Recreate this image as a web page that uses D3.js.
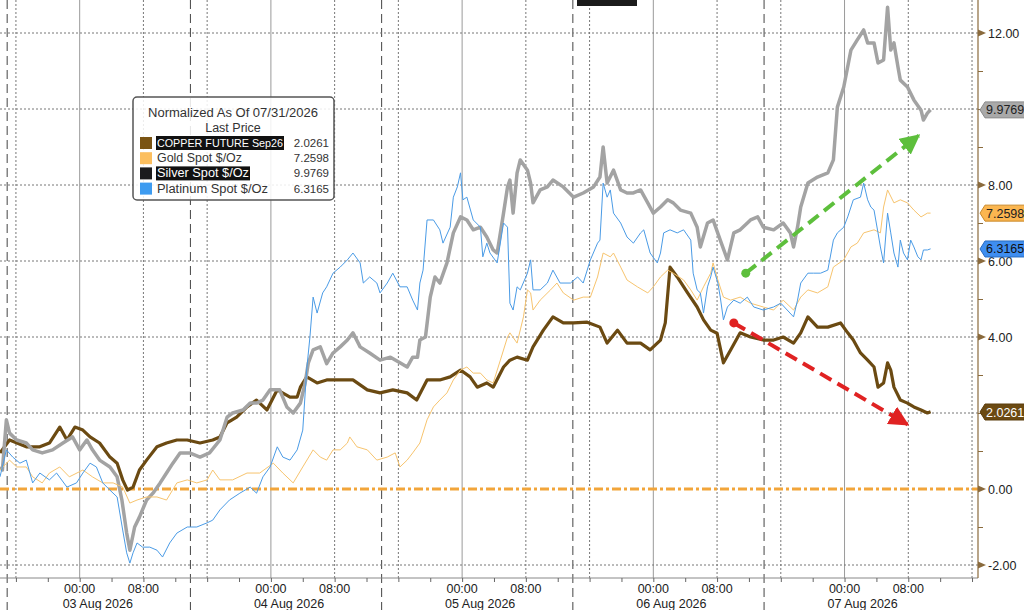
<!DOCTYPE html>
<html>
<head>
<meta charset="utf-8">
<script src="https://cdn.jsdelivr.net/npm/d3@7"></script>
<style>
  body { margin: 0; background: #fff; }
  svg { display: block; font-family: "Liberation Sans", Arial, sans-serif; }
</style>
</head>
<body>
<svg width="1024" height="610"></svg>
<script>
// hours since 03 Aug 2026 00:00, normalized value
const copper = [[-10.0,0.95],[-8.8,1.29],[-6.7,1.11],[-5.0,1.11],[-3.8,1.21],[-2.5,1.63],[-1.6,1.29],[-0.6,1.63],[0.4,1.55],[1.3,1.37],[2.5,1.21],[3.8,0.84],[4.7,0.68],[5.4,0.24],[6.0,-0.03],[6.7,0.05],[7.5,0.50],[8.4,0.76],[9.7,1.11],[10.9,1.21],[12.2,1.29],[13.5,1.29],[15.1,1.21],[16.7,1.29],[17.6,1.37],[18.5,1.74],[19.7,1.89],[21.0,2.16],[22.2,2.34],[23.5,2.08],[24.8,2.61],[26.4,2.42],[27.3,2.42],[27.7,2.68],[28.5,2.95],[29.8,2.79],[31.0,2.87],[32.7,2.87],[34.3,2.87],[36.1,2.61],[37.7,2.53],[39.3,2.61],[41.1,2.53],[42.3,2.34],[43.6,2.87],[45.2,2.87],[46.5,2.95],[47.8,3.13],[49.0,2.95],[49.9,2.68],[51.1,2.79],[51.9,2.68],[53.2,3.21],[54.0,3.39],[54.9,3.47],[56.2,3.39],[56.9,3.74],[58.2,4.18],[59.4,4.53],[60.7,4.37],[62.0,4.37],[63.7,4.39],[65.3,4.26],[66.2,3.84],[67.5,4.18],[68.7,3.84],[70.4,3.84],[71.6,3.66],[72.9,3.92],[73.5,4.37],[74.1,5.84],[75.0,5.58],[76.3,5.16],[77.5,4.79],[78.3,4.45],[79.2,4.18],[80.0,4.10],[80.8,3.32],[81.7,3.66],[82.9,4.11],[84.2,4.00],[85.8,3.92],[87.1,3.92],[88.3,4.00],[89.6,3.84],[90.5,4.11],[91.4,4.53],[92.6,4.26],[93.9,4.26],[95.5,4.37],[96.4,4.11],[97.1,3.92],[98.0,3.58],[98.9,3.39],[99.7,3.21],[100.2,2.68],[100.9,2.79],[101.4,3.32],[101.8,3.13],[102.2,2.68],[103.0,2.34],[103.9,2.26],[104.7,2.16],[105.6,2.08],[106.4,2.00],[106.8,2.03]];

const gold = [[-10.0,0.50],[-8.8,0.76],[-7.9,0.58],[-6.7,0.58],[-5.9,0.32],[-4.7,0.16],[-3.8,0.42],[-2.5,0.58],[-1.3,0.32],[0.4,0.50],[1.6,0.32],[2.9,0.16],[4.2,0.16],[5.4,0.05],[6.3,-0.37],[7.2,-0.29],[8.4,-0.21],[9.7,-0.21],[10.9,-0.29],[12.2,0.16],[13.5,0.24],[14.7,0.16],[16.0,0.24],[16.7,0.50],[17.6,0.24],[19.2,0.24],[21.0,0.42],[22.6,0.42],[24.3,0.68],[25.5,0.42],[26.8,0.16],[28.0,0.58],[29.3,1.03],[30.2,0.84],[31.0,0.76],[31.8,1.03],[32.7,1.03],[33.6,1.21],[33.9,1.37],[34.8,1.11],[36.1,1.03],[37.3,0.76],[38.6,0.84],[39.6,0.95],[40.2,0.58],[41.1,0.76],[41.8,0.95],[42.7,1.21],[43.6,1.82],[44.4,2.16],[45.2,2.34],[46.1,2.53],[46.9,2.87],[47.8,3.13],[48.6,3.21],[49.4,3.05],[50.3,3.05],[51.1,2.87],[51.9,2.79],[52.8,3.39],[53.7,4.00],[54.0,4.11],[54.9,3.84],[55.7,4.53],[56.2,5.24],[56.6,5.16],[56.9,4.71],[57.8,4.97],[59.1,5.24],[59.9,5.42],[60.7,5.16],[62.0,4.97],[63.2,5.05],[64.1,5.05],[65.0,5.58],[65.7,6.21],[66.6,6.11],[67.0,6.21],[67.9,5.84],[68.7,5.50],[70.0,5.32],[71.3,5.16],[72.0,5.32],[72.9,5.58],[73.8,5.76],[74.5,5.68],[75.8,5.50],[76.7,5.24],[77.5,4.97],[78.3,5.32],[79.2,5.68],[79.5,5.95],[80.1,5.50],[80.8,5.05],[81.7,4.97],[82.9,5.05],[84.2,4.89],[85.8,4.79],[87.1,4.71],[88.3,4.97],[89.6,4.71],[90.5,5.05],[91.4,5.24],[92.6,5.16],[93.9,5.32],[94.6,5.84],[95.9,6.03],[96.8,6.37],[97.6,6.47],[98.4,6.74],[99.7,6.82],[100.5,6.74],[100.9,7.42],[101.4,7.87],[102.2,7.53],[103.0,7.61],[103.9,7.53],[104.7,7.34],[105.6,7.16],[106.4,7.26],[106.8,7.26]];

const silver = [[-10.0,0.58],[-9.7,0.50],[-9.2,1.82],[-8.8,1.47],[-7.9,1.29],[-6.7,1.21],[-5.9,1.03],[-4.7,0.95],[-3.4,1.03],[-2.1,1.21],[-0.9,1.37],[0.0,1.03],[0.9,1.29],[1.6,1.03],[2.5,0.76],[3.8,0.58],[4.7,0.32],[5.3,-0.29],[5.9,-1.16],[6.3,-1.61],[6.9,-1.00],[7.5,-0.74],[8.4,-0.29],[9.2,-0.11],[10.1,0.16],[10.9,0.42],[11.7,0.68],[12.6,0.95],[13.8,0.95],[15.1,0.84],[16.3,0.95],[17.6,1.29],[18.5,1.89],[19.2,2.00],[20.5,2.08],[21.4,2.26],[22.2,2.26],[23.0,2.34],[23.9,2.61],[25.1,2.61],[26.0,2.16],[26.8,2.00],[27.7,2.26],[28.3,2.79],[28.7,3.32],[29.3,3.66],[30.2,3.74],[31.0,3.30],[31.8,3.58],[32.7,3.74],[33.6,3.92],[34.3,4.11],[35.2,3.74],[36.4,3.58],[37.7,3.39],[39.0,3.47],[40.2,3.32],[41.1,3.21],[41.8,3.47],[42.4,3.47],[42.7,3.92],[43.4,4.00],[44.0,5.05],[44.6,5.58],[45.2,5.42],[46.1,5.95],[46.9,6.74],[47.8,7.16],[48.6,7.08],[49.4,6.82],[50.3,6.89],[51.1,6.63],[51.9,6.29],[52.4,6.21],[53.2,7.26],[53.7,7.95],[54.0,8.13],[54.4,7.26],[54.9,8.32],[55.3,8.66],[56.2,8.39],[56.6,8.05],[56.9,7.53],[57.8,7.87],[58.7,7.95],[59.4,8.13],[60.7,7.95],[62.0,7.68],[63.2,7.79],[64.5,7.95],[65.3,8.21],[65.7,9.00],[66.2,8.05],[67.0,8.39],[67.9,7.87],[68.7,7.79],[69.5,7.79],[70.4,7.87],[71.3,7.53],[72.0,7.26],[72.9,7.42],[73.8,7.61],[74.5,7.53],[75.4,7.34],[76.7,7.26],[77.5,6.89],[77.9,6.37],[78.8,7.00],[79.5,7.08],[80.4,6.55],[81.3,6.03],[82.1,6.74],[82.9,6.82],[84.2,7.08],[85.1,7.16],[85.8,6.89],[87.1,6.82],[88.3,7.00],[89.2,6.74],[89.6,6.37],[90.1,6.89],[90.5,7.42],[91.4,8.05],[92.6,8.21],[93.9,8.32],[94.6,8.66],[95.1,10.05],[95.9,10.58],[96.8,11.55],[97.6,11.82],[98.4,12.08],[98.9,11.74],[99.7,11.74],[100.2,11.21],[100.9,11.29],[101.4,12.68],[101.8,11.55],[102.2,11.74],[102.7,11.11],[103.0,10.76],[103.9,10.58],[104.7,10.24],[105.6,9.97],[105.9,9.71],[106.4,9.89],[106.8,9.98]];

const platinum = [[-10.0,0.32],[-9.2,1.03],[-8.4,0.84],[-7.5,0.68],[-6.7,0.76],[-5.9,0.16],[-5.0,0.42],[-3.8,0.24],[-2.9,0.42],[-1.6,0.05],[-0.4,0.16],[0.4,0.42],[1.3,0.68],[2.1,0.58],[2.9,0.16],[3.8,-0.03],[4.7,-0.21],[5.4,-1.08],[5.9,-1.68],[6.3,-1.95],[6.7,-1.68],[7.2,-1.42],[7.9,-1.53],[8.8,-1.53],[9.7,-1.61],[10.4,-1.79],[11.3,-1.42],[12.2,-1.16],[13.5,-1.00],[14.7,-1.00],[16.0,-0.89],[16.7,-0.82],[17.6,-0.55],[18.8,-0.29],[20.1,-0.11],[21.4,0.05],[22.2,-0.11],[23.0,0.32],[23.9,0.58],[24.8,1.11],[25.5,0.84],[26.4,0.76],[27.3,1.03],[28.0,1.55],[28.5,3.16],[28.9,4.00],[29.3,5.05],[29.8,4.63],[30.5,5.16],[31.0,5.32],[31.8,5.68],[32.7,5.84],[33.6,6.03],[34.3,6.21],[35.2,5.95],[35.6,5.42],[36.4,5.58],[37.3,5.42],[37.7,5.16],[38.6,5.42],[39.3,5.68],[40.2,5.32],[41.1,5.32],[41.8,4.97],[42.4,4.71],[42.7,5.42],[43.1,5.76],[43.6,7.08],[44.4,7.08],[45.2,6.82],[45.6,6.47],[46.5,6.89],[46.9,7.68],[47.4,7.95],[47.8,8.32],[48.1,7.61],[48.6,7.68],[49.4,7.08],[50.3,6.89],[50.6,6.11],[51.1,6.47],[51.5,6.21],[52.4,5.95],[53.2,7.00],[53.7,6.89],[54.0,4.89],[54.4,4.71],[54.9,5.32],[55.3,5.24],[56.2,5.68],[56.6,6.03],[56.9,5.24],[57.8,5.24],[58.7,5.42],[59.4,5.76],[60.3,5.42],[61.6,5.42],[62.5,5.58],[63.2,5.42],[64.1,6.03],[65.0,6.47],[65.3,6.55],[65.7,8.05],[66.2,7.68],[66.6,7.87],[67.0,7.26],[67.9,7.00],[68.7,6.63],[69.5,6.47],[70.4,6.74],[70.8,6.82],[71.6,6.21],[72.5,5.95],[72.9,6.21],[73.3,6.74],[74.1,6.82],[75.0,6.74],[75.8,6.82],[76.7,6.55],[77.0,5.68],[77.5,5.24],[77.9,5.16],[78.3,4.63],[78.8,5.32],[79.2,5.58],[79.5,5.84],[80.1,5.42],[80.4,5.05],[80.8,4.45],[81.3,4.79],[82.1,4.97],[82.9,4.89],[83.8,5.05],[84.6,4.79],[85.8,4.71],[87.1,4.79],[88.0,4.89],[88.8,4.71],[89.6,4.53],[90.1,4.97],[90.5,5.42],[91.4,5.68],[92.1,5.68],[93.0,5.68],[93.9,5.76],[94.3,6.21],[94.6,6.55],[95.1,6.74],[95.9,6.89],[96.4,7.16],[97.1,7.61],[98.0,7.68],[98.4,8.05],[98.9,7.61],[99.3,7.42],[99.7,7.34],[100.2,6.74],[100.5,6.37],[100.9,5.95],[101.4,7.26],[101.8,6.74],[102.2,6.21],[102.7,5.84],[103.0,6.55],[103.4,6.21],[103.9,6.03],[104.3,6.55],[104.7,6.37],[105.2,6.11],[105.6,6.03],[105.9,6.29],[106.4,6.29],[106.8,6.32]];

const seriesNames = ["COPPER FUTURE Sep26", "Gold Spot $/Oz", "Silver Spot $/Oz", "Platinum Spot $/Oz"];
const lastPrices = [2.0261, 7.2598, 9.9769, 6.3165];
const yLabelTicks = [12, 8, 6, 4, 0, -2];
const yGridTicks = [-2, 2, 4, 6, 8, 10, 12];
const sessionBreaks = [-9.1, 13.9, 37.9, 61.9, 85.9]; // hours
const days = [0, 24, 48, 72, 96];
// trend arrows [h, v] start -> end
const greenArrow = [[83.6, 5.68], [105.3, 9.30]];
const redArrow = [[82.1, 4.37], [103.9, 1.70]];

const BASE = Date.UTC(2026, 7, 3);
const at = h => new Date(BASE + h * 36e5);

const svg = d3.select("svg");
const W = 978, H = 578;

const x = d3.scaleUtc().domain([at(-10), at(112.75)]).range([0, W]);
const y = d3.scaleLinear().domain([-2, 12]).range([565, 33]);

// vertical grid
const vg = svg.append("g");
const hours = d3.utcHour.every(8).range(at(-10), at(113));
vg.selectAll("line.h").data(hours).join("line")
  .attr("x1", d => x(d)).attr("x2", d => x(d))
  .attr("y1", 0).attr("y2", H)
  .attr("stroke", d => d.getUTCHours() === 0 ? "#9a9a9a" : "#777")
  .attr("stroke-width", 1)
  .attr("stroke-dasharray", d => d.getUTCHours() === 0 ? null : "2,2");
vg.selectAll("line.s").data(sessionBreaks).join("line")
  .attr("x1", d => x(at(d))).attr("x2", d => x(at(d)))
  .attr("y1", 0).attr("y2", 610)
  .attr("stroke", "#444").attr("stroke-width", 1)
  .attr("stroke-dasharray", "9,5");

// horizontal grid
svg.append("g").selectAll("line").data(yGridTicks).join("line")
  .attr("x1", 0).attr("x2", W)
  .attr("y1", d => y(d)).attr("y2", d => y(d))
  .attr("stroke", "#777").attr("stroke-dasharray", "2,2");

// zero line
svg.append("line")
  .attr("x1", 0).attr("x2", W).attr("y1", y(0)).attr("y2", y(0))
  .attr("stroke", "#f2a53a").attr("stroke-width", 3)
  .attr("stroke-dasharray", "9,3,3,3");

// top black block
svg.append("rect").attr("x", 577).attr("y", 0).attr("width", 60).attr("height", 6).attr("fill", "#1b1b1b");

const line = d3.line().x(d => x(at(d[0]))).y(d => y(d[1])).curve(d3.curveLinear);

const draw = [
  {data: copper, color: "#6b4a12", w: 3.2},
  {data: silver, color: "#a3a3a3", w: 3.5},
  {data: gold, color: "#f7c46e", w: 1},
  {data: platinum, color: "#4a9be6", w: 1}
];
svg.append("g").selectAll("path").data(draw).join("path")
  .attr("d", d => line(d.data))
  .attr("fill", "none")
  .attr("stroke", d => d.color)
  .attr("stroke-width", d => d.w)
  .attr("stroke-linejoin", "round");

// arrows
const defs = svg.append("defs");
function arrow(pts, color, id) {
  defs.append("marker").attr("id", id)
    .attr("viewBox", "0 0 10 10").attr("refX", 9).attr("refY", 5)
    .attr("markerWidth", 5).attr("markerHeight", 5).attr("markerUnits", "strokeWidth")
    .attr("orient", "auto")
    .append("path").attr("d", "M0,0 L10,5 L0,10 Z").attr("fill", color);
  const [a, b] = pts;
  svg.append("line")
    .attr("x1", x(at(a[0]))).attr("y1", y(a[1]))
    .attr("x2", x(at(b[0]))).attr("y2", y(b[1]))
    .attr("stroke", color).attr("stroke-width", 4)
    .attr("stroke-dasharray", "13,7")
    .attr("marker-end", `url(#${id})`);
  svg.append("circle").attr("cx", x(at(a[0]))).attr("cy", y(a[1])).attr("r", 4.5).attr("fill", color);
}
arrow(greenArrow, "#5dbf3c", "ag");
arrow(redArrow, "#e02222", "ar");

// bottom axis
const axisColor = "#8a6a3c";
svg.append("line").attr("x1", 0).attr("x2", W).attr("y1", H).attr("y2", H).attr("stroke", "#888");
const xAxis = svg.append("g").attr("transform", `translate(0,${H})`)
  .call(d3.axisBottom(x).ticks(d3.utcHour.every(4)).tickSize(4).tickFormat(""));
xAxis.select(".domain").remove();
xAxis.selectAll("line").attr("stroke", "#666");

const labelHours = d3.utcHour.every(8).range(at(-10), at(113)).filter(d => d.getUTCHours() !== 16);
svg.append("g").selectAll("text").data(labelHours).join("text")
  .attr("x", d => x(d)).attr("y", 593)
  .attr("text-anchor", "middle").attr("font-size", 12.5).attr("fill", "#222")
  .text(d3.utcFormat("%H:%M"));
svg.append("g").selectAll("text").data(days).join("text")
  .attr("x", d => x(at(d)) - 17).attr("y", 608)
  .attr("font-size", 12.5).attr("fill", "#222")
  .text(d => d3.utcFormat("%d %b %Y")(at(d)));

// right axis
svg.append("line").attr("x1", W).attr("x2", W).attr("y1", 0).attr("y2", H)
  .attr("stroke", axisColor).attr("stroke-width", 1.2);
const yAxis = svg.append("g").attr("transform", `translate(${W},0)`)
  .call(d3.axisRight(y).tickValues(d3.range(-2, 13)).tickSize(5).tickFormat(""));
yAxis.select(".domain").remove();
yAxis.selectAll("line").attr("stroke", axisColor);
svg.append("g").selectAll("path").data(yLabelTicks).join("path")
  .attr("d", d => `M${W},${y(d) - 3.5} L${W + 8},${y(d)} L${W},${y(d) + 3.5} Z`)
  .attr("fill", axisColor);
svg.append("g").selectAll("text").data(yLabelTicks).join("text")
  .attr("x", 988).attr("y", d => y(d) + 4.5)
  .attr("font-size", 12.5).attr("fill", "#222")
  .text(d => d.toFixed(2));

// last-price tags
const tagStyle = [
  {fill: "#6b4a12", stroke: "#5a3d0c", text: "#fff"},
  {fill: "#fbb650", stroke: "#c9892a", text: "#222"},
  {fill: "#a9a9a9", stroke: "#8c8c8c", text: "#222"},
  {fill: "#3f8ef0", stroke: "#2a6cc0", text: "#111"}
];
const tags = svg.append("g").selectAll("g").data(lastPrices).join("g")
  .attr("transform", d => `translate(980,${y(d)})`);
tags.append("path")
  .attr("d", "M0,0 L5,-8 L50,-8 L50,8 L5,8 Z")
  .attr("fill", (d, i) => tagStyle[i].fill)
  .attr("stroke", (d, i) => tagStyle[i].stroke);
tags.append("text").attr("x", 6).attr("y", 4.5)
  .attr("font-size", 12.5).attr("fill", (d, i) => tagStyle[i].text)
  .text(d => d.toFixed(4));

// legend
const swatch = ["#7a5414", "#fcbf5f", "#1c1c1e", "#3d9bf0"];
const nameWidth = [126, 85, 92, 111];
const nameSize = [10.8, 12.5, 12.5, 12.5];
const lg = svg.append("g").attr("transform", "translate(133,97)");
lg.append("rect").attr("width", 201).attr("height", 103).attr("rx", 4)
  .attr("fill", "#fff").attr("fill-opacity", 0.86)
  .attr("stroke", "#555").attr("stroke-width", 1.5);
lg.append("text").attr("x", 100).attr("y", 20).attr("text-anchor", "middle")
  .attr("font-size", 12.5).attr("fill", "#333")
  .attr("textLength", 170).attr("lengthAdjust", "spacingAndGlyphs")
  .text("Normalized As Of 07/31/2026");
lg.append("text").attr("x", 100).attr("y", 35).attr("text-anchor", "middle")
  .attr("font-size", 12.5).attr("fill", "#333").text("Last Price");
const rows = lg.selectAll("g.row").data(seriesNames).join("g")
  .attr("transform", (d, i) => `translate(0,${50 + i * 15.2})`);
rows.append("rect").attr("x", 7).attr("y", -10).attr("width", 12).attr("height", 12)
  .attr("fill", (d, i) => swatch[i]);
rows.each(function (d, i) {
  const g = d3.select(this);
  if (i === 0 || i === 2) {
    g.append("rect").attr("x", 23).attr("y", -11).attr("width", nameWidth[i] + 2).attr("height", 14)
      .attr("fill", "#111");
  }
  g.append("text").attr("x", 24).attr("y", 0).attr("font-size", nameSize[i])
    .attr("textLength", nameWidth[i]).attr("lengthAdjust", "spacingAndGlyphs")
    .attr("fill", i === 0 || i === 2 ? "#fff" : "#333").text(d);
});
rows.append("text").attr("x", 196).attr("y", 0).attr("text-anchor", "end")
  .attr("font-size", 11.5).attr("fill", "#333")
  .text((d, i) => lastPrices[i].toFixed(4));
</script>
</body>
</html>
